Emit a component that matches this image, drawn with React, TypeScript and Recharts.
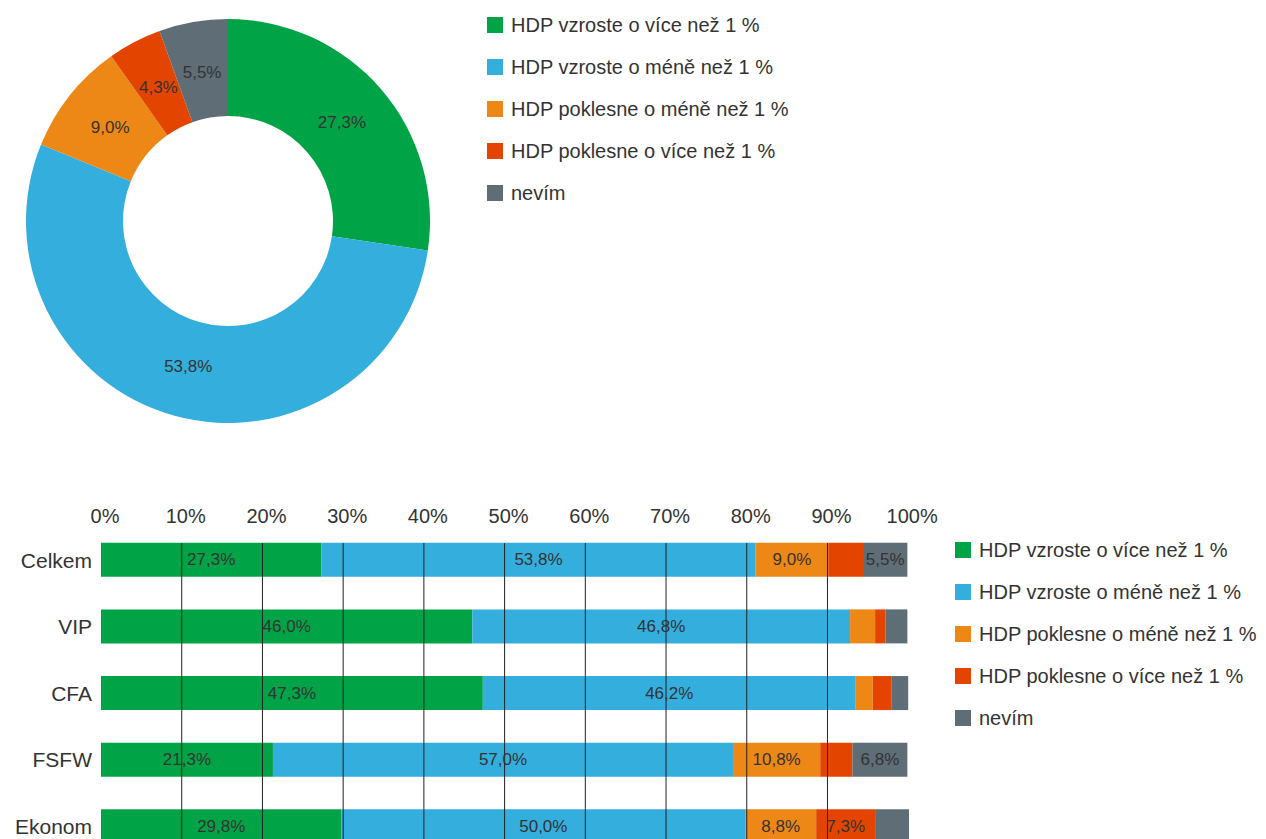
import React from 'react';
import { PieChart, Pie, Cell, BarChart, Bar, XAxis, YAxis, LabelList, ReferenceLine } from 'recharts';

const seriesNames = [
  'HDP vzroste o více než 1 %',
  'HDP vzroste o méně než 1 %',
  'HDP poklesne o méně než 1 %',
  'HDP poklesne o více než 1 %',
  'nevím',
];
const seriesKeys = ['growMore', 'growLess', 'fallLess', 'fallMore', 'dontKnow'];
const seriesColors = ['#00A346', '#34AEDD', '#ED8715', '#E34500', '#5F6D77'];

const pieValues = [27.3, 53.8, 9.0, 4.3, 5.5];

const categories = ['Celkem', 'VIP', 'CFA', 'FSFW', 'Ekonom'];
const growMore = [27.3, 46.0, 47.3, 21.3, 29.8];
const growLess = [53.8, 46.8, 46.2, 57.0, 50.0];
const fallLess = [9.0, 3.1, 2.1, 10.8, 8.8];
const fallMore = [4.3, 1.3, 2.3, 4.0, 7.3];
const dontKnow = [5.5, 2.7, 2.1, 6.8, 4.2];

const xTicks = [0, 10, 20, 30, 40, 50, 60, 70, 80, 90, 100];
const gridTicks = [10, 20, 30, 40, 50, 60, 70, 80, 90];

const seriesValues = [growMore, growLess, fallLess, fallMore, dontKnow];
const barData = categories.map((c, i) => {
  const row: any = { name: c };
  seriesKeys.forEach((k, s) => { row[k] = seriesValues[s][i]; });
  return row;
});
const pieData = seriesNames.map((n, i) => ({ name: n, value: pieValues[i] }));

const FONT = '"Liberation Sans", Arial, sans-serif';
const TEXT = '#333';
const fmt = (v: number) => v.toFixed(1).replace('.', ',') + '%';
const RAD = Math.PI / 180;

const renderPieLabel = (p: any) => {
  const r = (p.innerRadius + p.outerRadius) / 2 - 3;
  const x = p.cx + r * Math.cos(-p.midAngle * RAD);
  const y = p.cy + r * Math.sin(-p.midAngle * RAD);
  return (
    <text x={x} y={y} textAnchor="middle" dominantBaseline="central" fill={TEXT} fontSize={17} fontFamily={FONT}>
      {fmt(p.value)}
    </text>
  );
};

const renderBarLabel = (p: any) => {
  const v = Number(p.value);
  if (!(v >= 5)) return null;
  return (
    <text x={p.x + p.width / 2} y={p.y + p.height / 2} textAnchor="middle" dominantBaseline="central" fill={TEXT} fontSize={17} fontFamily={FONT}>
      {fmt(v)}
    </text>
  );
};

const LegendBox = ({ left, top }: { left: number; top: number }) => (
  <div style={{ position: 'absolute', left, top, fontFamily: FONT, fontSize: 20, color: TEXT }}>
    {seriesNames.map((n, i) => (
      <div key={n} style={{ height: 42, display: 'flex', alignItems: 'center', whiteSpace: 'nowrap' }}>
        <span style={{ display: 'inline-block', width: 16, height: 16, background: seriesColors[i], marginRight: 8 }} />
        <span>{n}</span>
      </div>
    ))}
  </div>
);

export default function App() {
  return (
    <div style={{ position: 'absolute', left: 0, top: 0, width: 1266, height: 839, overflow: 'hidden', background: '#fff' }}>
      <div style={{ position: 'absolute', left: 0, top: 0 }}>
        <PieChart width={460} height={440} margin={{ top: 0, right: 0, bottom: 0, left: 0 }}>
          <Pie
            data={pieData}
            dataKey="value"
            nameKey="name"
            cx={228}
            cy={221}
            innerRadius={105}
            outerRadius={202}
            startAngle={90}
            endAngle={-270}
            stroke="none"
            label={renderPieLabel}
            labelLine={false}
            isAnimationActive={false}
          >
            {pieData.map((d, i) => (
              <Cell key={d.name} fill={seriesColors[i]} />
            ))}
          </Pie>
        </PieChart>
      </div>
      <LegendBox left={487} top={4} />

      <div style={{ position: 'absolute', left: 0, top: 480 }}>
        <BarChart
          width={1266}
          height={380}
          data={barData}
          layout="vertical"
          margin={{ top: 33, right: 357, bottom: 0, left: 8 }}
          barSize={34}
        >
          <XAxis
            type="number"
            orientation="top"
            domain={[0, 100]}
            ticks={xTicks}
            tickFormatter={(v: number) => `${v}%`}
            axisLine={false}
            tickLine={false}
            tickSize={0}
            tickMargin={20}
            height={30}
            tick={{ fill: TEXT, fontSize: 20, fontFamily: FONT, dx: 4 }}
            interval={0}
          />
          <YAxis
            type="category"
            dataKey="name"
            width={93}
            axisLine={false}
            tickLine={false}
            tickSize={0}
            tickMargin={9}
            padding={{ top: -16.25, bottom: 0 }}
            tick={{ fill: TEXT, fontSize: 21, fontFamily: FONT }}
            interval={0}
          />
          {seriesKeys.map((k, i) => (
            <Bar key={k} dataKey={k} name={seriesNames[i]} stackId="a" fill={seriesColors[i]} isAnimationActive={false}>
              <LabelList dataKey={k} content={renderBarLabel} />
            </Bar>
          ))}
          {gridTicks.map((t) => (
            <ReferenceLine key={t} x={t} stroke="#222" strokeWidth={1} />
          ))}
        </BarChart>
      </div>
      <LegendBox left={955} top={529} />
    </div>
  );
}
